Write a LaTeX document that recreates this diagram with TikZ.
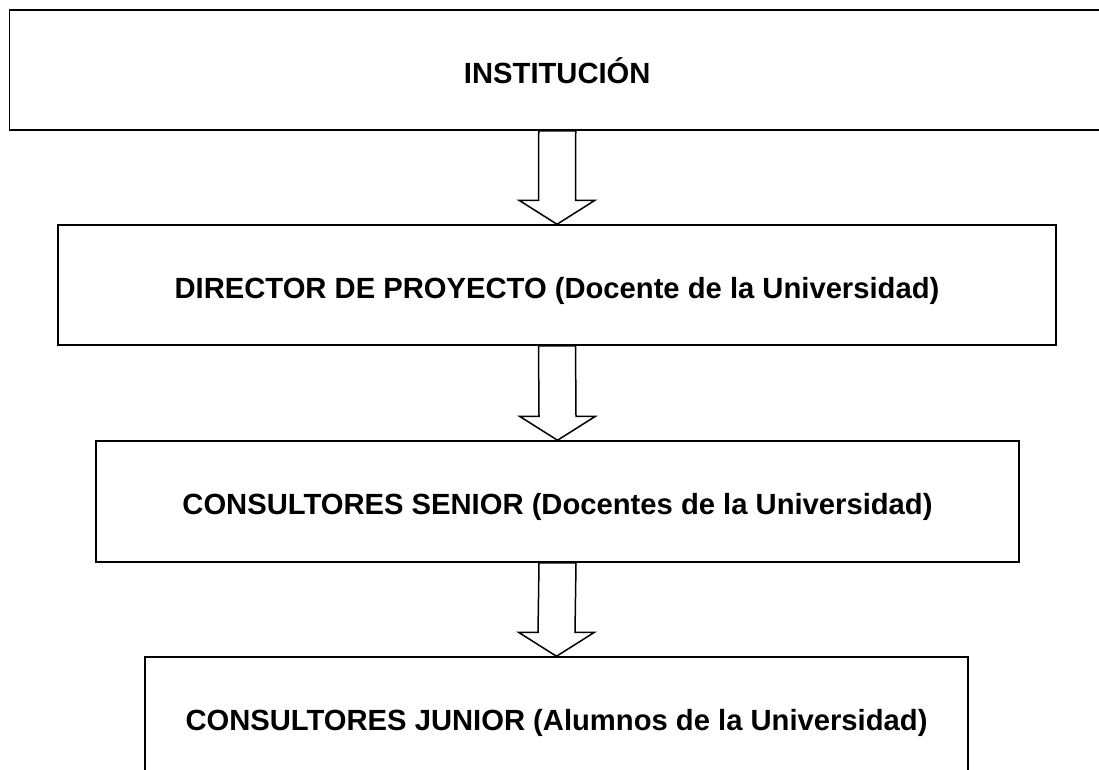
\documentclass[tikz,border=0pt]{standalone}
\usepackage{fontspec}
\setmainfont{Liberation Sans}
\usetikzlibrary{calc}
\tikzset{
  caja/.style={draw, line width=1.5pt, rectangle, inner sep=0pt,
    text height=26pt, text depth=0pt,
    font=\fontsize{29.2}{34}\selectfont\bfseries},
  flecha/.style={draw, fill=white, line width=1.5pt, line join=miter}
}
% hollow block arrow from the bottom of #1 to the top of #2
\newcommand{\bajar}[2]{%
  \draw[flecha] ($(#1.south)+(-18.5,0)$) -- ($(#2.north)+(-18.5,-24)$)
    -- ($(#2.north)+(-38,-24)$) -- (#2.north) -- ($(#2.north)+(38,-24)$)
    -- ($(#2.north)+(18.5,-24)$) -- ($(#1.south)+(18.5,0)$) -- cycle;}
\begin{document}
\begin{tikzpicture}[x=1pt,y=-1pt]
  \clip (0,0) rectangle (1099,769);
  \fill[white] (0,0) rectangle (1099,769);
  \node[caja, minimum width=1095.5pt, minimum height=120pt] (inst) at (557.25,70) {INSTITUCIÓN};
  \node[caja, minimum width=998pt, minimum height=120pt] (dir) at (557,285)
    {DIRECTOR DE PROYECTO (Docente de la Universidad)};
  \node[caja, minimum width=923pt, minimum height=121pt] (senior) at (557.5,501.5)
    {CONSULTORES SENIOR (Docentes de la Universidad)};
  \node[caja, minimum width=823pt, minimum height=120pt] (junior) at (556.5,717)
    {CONSULTORES JUNIOR (Alumnos de la Universidad)};
  \begin{scope}
    \bajar{inst}{dir}
    \bajar{dir}{senior}
    \bajar{senior}{junior}
  \end{scope}
\end{tikzpicture}
\end{document}
